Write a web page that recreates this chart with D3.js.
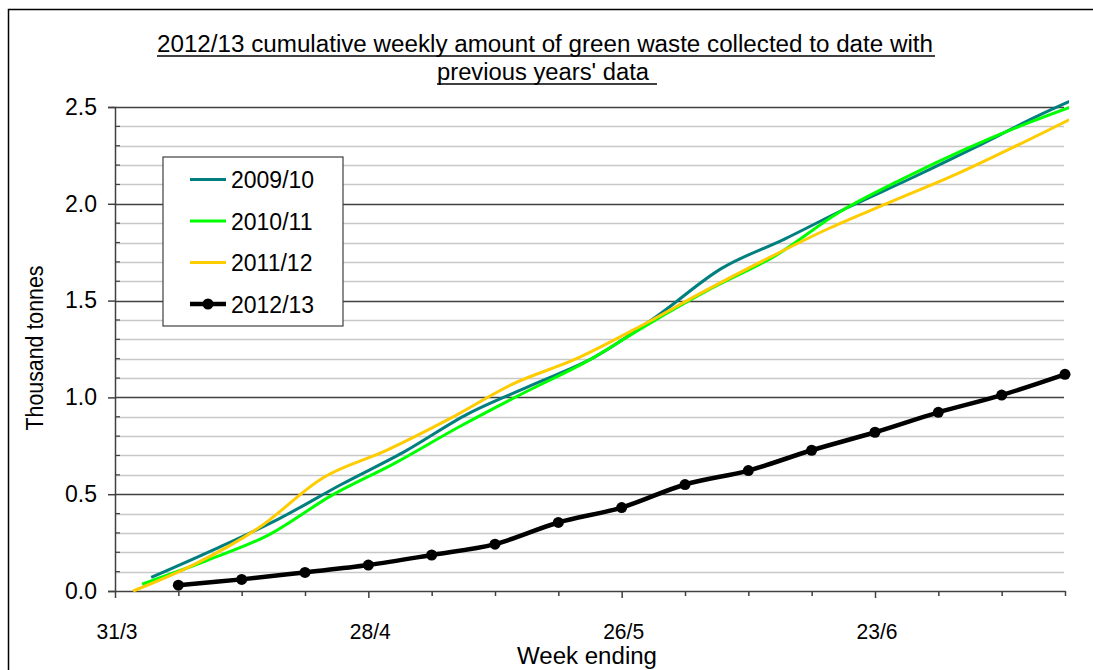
<!DOCTYPE html>
<html><head><meta charset="utf-8">
<script src="https://cdn.jsdelivr.net/npm/d3@7"></script>
<style>
body{margin:0;background:#fff;}
text{font-family:"Liberation Sans",Arial,sans-serif;fill:#000;}
</style></head>
<body>
<svg id="chart" width="1093" height="670"></svg>
<script>
// ---- data ----
const seriesNames = ["2009/10","2010/11","2011/12","2012/13"];
const dates0910 = ["04/04","11/04","18/04","25/04","02/05","09/05","16/05","23/05","30/05","06/06","13/06","20/06","27/06","04/07","11/07","18/07"];
const values0910 = [0.07,0.215,0.37,0.55,0.72,0.915,1.062,1.208,1.423,1.665,1.818,1.981,2.132,2.29,2.454,2.60];
const dates1011 = ["03/04","10/04","17/04","24/04","01/05","08/05","15/05","22/05","29/05","05/06","12/06","19/06","26/06","03/07","10/07","17/07"];
const values1011 = [0.035,0.155,0.29,0.495,0.662,0.847,1.019,1.182,1.38,1.565,1.732,1.955,2.127,2.282,2.419,2.54];
const dates1112 = ["02/04","09/04","16/04","23/04","30/04","07/05","14/05","21/05","28/05","04/06","11/06","18/06","25/06","02/07","09/07","16/07"];
const values1112 = [0.0,0.143,0.33,0.585,0.726,0.89,1.07,1.2,1.366,1.545,1.715,1.875,2.015,2.153,2.308,2.47];
const dates1213 = ["07/04","14/04","21/04","28/04","05/05","12/05","19/05","26/05","02/06","09/06","16/06","23/06","30/06","07/07","14/07"];
const values1213 = [0.03,0.06,0.096,0.134,0.186,0.242,0.354,0.431,0.55,0.622,0.727,0.82,0.923,1.012,1.119];
const xTickDates = ["31/03","07/04","14/04","21/04","28/04","05/05","12/05","19/05","26/05","02/06","09/06","16/06","23/06","30/06","07/07","14/07"];
const xLabelDates = ["31/03","28/04","26/05","23/06"];
const xLabels = ["31/3","28/4","26/5","23/6"];
const yMajor = [0,0.5,1.0,1.5,2.0,2.5];
const yMinor = [0.1,0.2,0.3,0.4,0.6,0.7,0.8,0.9,1.1,1.2,1.3,1.4,1.6,1.7,1.8,1.9,2.1,2.2,2.3,2.4];
const colors = ["#007F7F","#00FF00","#FFCC00","#000000"];

const parse = s => { const [d,m] = s.split("/").map(Number); return new Date(2012, m-1, d); };

const svg = d3.select("#chart");
const L = 115, R = 1065, T = 107, B = 591;
const x = d3.scaleTime().domain([parse("31/03"), parse("14/07")]).range([L, R]);
const y = d3.scaleLinear().domain([0, 2.5]).range([B, T]);

// outer border
svg.append("rect").attr("x",8.5).attr("y",9.5).attr("width",1200).attr("height",800)
  .attr("fill","none").attr("stroke","#000").attr("stroke-width",1.5);

// gridlines
svg.append("g").selectAll("line").data(yMinor).join("line")
  .attr("x1",L).attr("x2",R-1).attr("y1",d=>Math.round(y(d))+0.5).attr("y2",d=>Math.round(y(d))+0.5)
  .attr("stroke","#c8c8c8").attr("stroke-width",1.5);
svg.append("g").selectAll("line").data(yMajor.filter(d=>d>0)).join("line")
  .attr("x1",L).attr("x2",R-1).attr("y1",d=>Math.round(y(d))+0.5).attr("y2",d=>Math.round(y(d))+0.5)
  .attr("stroke","#404040").attr("stroke-width",1.5);

// y axis
const yAxis = d3.axisLeft(y).tickValues(yMajor).tickFormat(d3.format(".1f")).tickSize(7).tickPadding(11);
const gy = svg.append("g").attr("transform",`translate(${L},0)`).call(yAxis);
gy.select(".domain").attr("stroke","#404040").attr("stroke-width",1.5);
gy.selectAll(".tick line").attr("stroke","#404040").attr("stroke-width",1.5);
gy.selectAll(".tick text").attr("font-size",23).attr("font-family","Liberation Sans, Arial").attr("fill","#000");
svg.append("g").selectAll("line").data(yMinor).join("line")
  .attr("x1",L).attr("x2",L+5).attr("y1",d=>y(d)).attr("y2",d=>y(d))
  .attr("stroke","#404040").attr("stroke-width",1.2);

// x axis
const xAxis = d3.axisBottom(x).tickValues(xTickDates.map(parse)).tickFormat("").tickSize(5).tickSizeOuter(0);
const gx = svg.append("g").attr("transform",`translate(0,${B})`).call(xAxis);
gx.select(".domain").attr("stroke","#404040").attr("stroke-width",1.5);
gx.selectAll(".tick line").attr("stroke","#404040").attr("stroke-width",1.5)
  .attr("y2", d => xLabelDates.map(s=>+parse(s)).includes(+d) ? 7 : 5);
svg.append("g").selectAll("text").data(xLabelDates).join("text")
  .attr("x",d=>x(parse(d))+2).attr("y",639).attr("text-anchor","middle")
  .attr("font-size",22).attr("textLength",41).attr("lengthAdjust","spacingAndGlyphs")
  .text((d,i)=>xLabels[i]);

// clip
svg.append("clipPath").attr("id","clip").append("rect")
  .attr("x",L).attr("y",0).attr("width",R-L+4).attr("height",B+10);

const line = d3.line().x(d=>x(parse(d[0]))).y(d=>y(d[1])).curve(d3.curveCardinal.tension(0));
const allSeries = [
  d3.zip(dates0910, values0910),
  d3.zip(dates1011, values1011),
  d3.zip(dates1112, values1112),
  d3.zip(dates1213, values1213)
];
const gl = svg.append("g").attr("clip-path","url(#clip)");
allSeries.forEach((s,i)=>{
  gl.append("path").datum(s).attr("d",line).attr("fill","none")
    .attr("stroke",colors[i]).attr("stroke-width", i===3 ? 4.5 : 3).attr("stroke-linejoin","round");
});
svg.append("g").selectAll("circle").data(allSeries[3]).join("circle")
  .attr("cx",d=>x(parse(d[0]))).attr("cy",d=>y(d[1])).attr("r",5.5).attr("fill","#000");

// legend
const lg = svg.append("g");
lg.append("rect").attr("x",163).attr("y",157).attr("width",180).attr("height",169)
  .attr("fill","#fff").attr("stroke","#404040").attr("stroke-width",1.2);
const rowsY = [179.5,221,262.5,304];
seriesNames.forEach((n,i)=>{
  lg.append("line").attr("x1",190).attr("x2",226).attr("y1",rowsY[i]).attr("y2",rowsY[i])
    .attr("stroke",colors[i]).attr("stroke-width", i===3 ? 4.5 : 3);
  if(i===3) lg.append("circle").attr("cx",208).attr("cy",rowsY[i]).attr("r",5.5).attr("fill","#000");
  lg.append("text").attr("x",231).attr("y",rowsY[i]+8.5).attr("font-size",23).text(n);
});

// titles
const t1 = "2012/13 cumulative weekly amount of green waste collected to date with";
const t2 = "previous years' data";
svg.append("text").attr("x",157).attr("y",52).attr("font-size",23)
  .attr("textLength",776).attr("lengthAdjust","spacingAndGlyphs").text(t1);
svg.append("line").attr("x1",157).attr("x2",935).attr("y1",56).attr("y2",56).attr("stroke","#000").attr("stroke-width",1.5);
svg.append("text").attr("x",437).attr("y",80).attr("font-size",23)
  .attr("textLength",212).attr("lengthAdjust","spacingAndGlyphs").text(t2);
svg.append("line").attr("x1",437).attr("x2",657).attr("y1",84).attr("y2",84).attr("stroke","#000").attr("stroke-width",1.5);

svg.append("text").attr("transform","translate(43,348) rotate(-90)").attr("text-anchor","middle")
  .attr("font-size",23).attr("textLength",165).attr("lengthAdjust","spacingAndGlyphs").text("Thousand tonnes");
svg.append("text").attr("x",587).attr("y",664).attr("text-anchor","middle")
  .attr("font-size",23).attr("textLength",140).attr("lengthAdjust","spacingAndGlyphs").text("Week ending");
</script>
</body></html>
